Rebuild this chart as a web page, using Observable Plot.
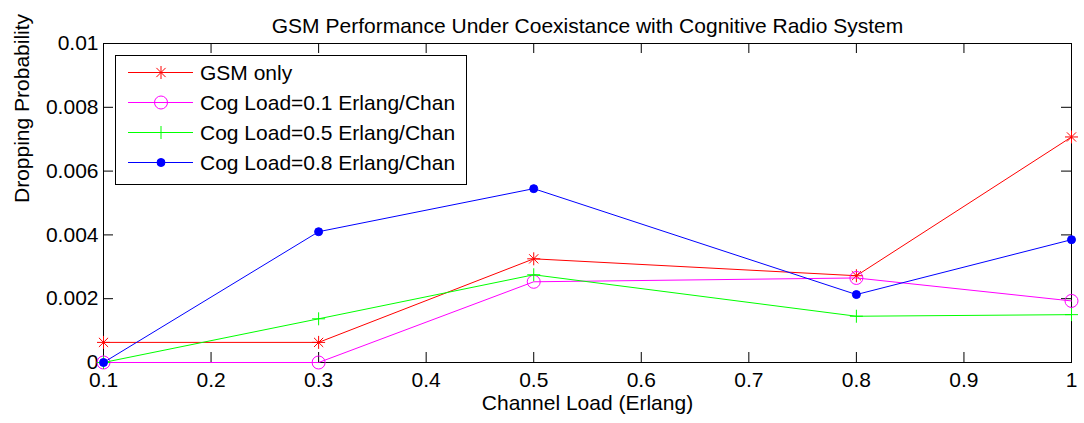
<!DOCTYPE html>
<html><head><meta charset="utf-8">
<script src="https://cdn.jsdelivr.net/npm/d3@7"></script>
<script src="https://cdn.jsdelivr.net/npm/@observablehq/plot@0.6"></script>
<style>
body{margin:0;background:#fff;}
#wrap{position:relative;width:1084px;height:423px;font-family:"Liberation Sans",Arial,sans-serif;}
#legend{position:absolute;left:115px;top:55px;}
</style></head><body>
<div id="wrap"><div id="chart"></div><div id="legend"></div></div>
<script>
const channelLoad = [0.1, 0.3, 0.5, 0.8, 1.0];
const gsmOnly = [0.00063, 0.00063, 0.00325, 0.00272, 0.00707];
const cog01 = [0, 0, 0.00253, 0.00265, 0.00193];
const cog05 = [0, 0.00137, 0.00275, 0.00145, 0.0015];
const cog08 = [0, 0.0041, 0.00545, 0.00213, 0.00385];
const seriesNames = ["GSM only", "Cog Load=0.1 Erlang/Chan", "Cog Load=0.5 Erlang/Chan", "Cog Load=0.8 Erlang/Chan"];
const seriesValues = [gsmOnly, cog01, cog05, cog08];
const seriesColors = ["#ff0000", "#ff00ff", "#00ff00", "#0000ff"];
const xTicks = [0.1, 0.2, 0.3, 0.4, 0.5, 0.6, 0.7, 0.8, 0.9, 1];
const yTicks = [0, 0.002, 0.004, 0.006, 0.008, 0.01];
const titleText = "GSM Performance Under Coexistance with Cognitive Radio System";
const xLabel = "Channel Load (Erlang)";
const yLabel = "Dropping Probability";

const W = 1084, H = 423, mL = 103, mR = 13, mT = 43, mB = 61;
const fw = W - mL - mR, fh = H - mT - mB, tick = 10;
const FONT = 21;

const asterisk = {draw(ctx, size) {const r = Math.sqrt(size / Math.PI), d = r * Math.SQRT1_2;
  ctx.moveTo(-r, 0); ctx.lineTo(r, 0); ctx.moveTo(0, -r); ctx.lineTo(0, r);
  ctx.moveTo(-d, -d); ctx.lineTo(d, d); ctx.moveTo(-d, d); ctx.lineTo(d, -d);}};
const plusSym = {draw(ctx, size) {const r = Math.sqrt(size / Math.PI);
  ctx.moveTo(-r, 0); ctx.lineTo(r, 0); ctx.moveTo(0, -r); ctx.lineTo(0, r);}};
const circleSym = {draw(ctx, size) {const r = Math.sqrt(size / Math.PI); ctx.moveTo(r, 0); ctx.arc(0, 0, r, 0, 2 * Math.PI);}};
const markers = [
  {symbol: asterisk, r: 6.5, fill: "none"},
  {symbol: circleSym, r: 6.5, fill: "none"},
  {symbol: plusSym, r: 6.5, fill: "none"},
  {symbol: circleSym, r: 4, fill: "#0000ff"}
];

const rows = seriesNames.flatMap((s, k) => channelLoad.map((x, i) => ({series: s, k, x, y: seriesValues[k][i]})));

const marks = [
  Plot.ruleX(xTicks, {x: d => d, insetTop: fh - tick, stroke: "#000", strokeWidth: 1}),
  Plot.ruleX(xTicks, {x: d => d, insetBottom: fh - tick, stroke: "#000", strokeWidth: 1}),
  Plot.ruleY(yTicks, {y: d => d, insetRight: fw - tick, stroke: "#000", strokeWidth: 1}),
  Plot.ruleY(yTicks, {y: d => d, insetLeft: fw - tick, stroke: "#000", strokeWidth: 1}),
  Plot.frame({stroke: "#000", strokeWidth: 1}),
  Plot.axisX(xTicks, {anchor: "bottom", tickSize: 0, tickPadding: 10, tickFormat: d3.format("~g"), fontSize: FONT, label: null}),
  Plot.axisY(yTicks, {anchor: "left", tickSize: 0, tickPadding: 5, tickFormat: d3.format("~g"), fontSize: FONT, label: null}),
];
seriesNames.forEach((s, k) => {
  const data = rows.filter(d => d.k === k);
  marks.push(Plot.line(data, {x: "x", y: "y", stroke: seriesColors[k], strokeWidth: 1}));
  marks.push(Plot.dot(data, {x: "x", y: "y", stroke: seriesColors[k], fill: markers[k].fill, r: markers[k].r, symbol: markers[k].symbol, strokeWidth: 1}));
});
marks.push(Plot.text([titleText], {text: d => d, frameAnchor: "top", dy: -25, fontSize: FONT, fill: "#000"}));
marks.push(Plot.text([xLabel], {text: d => d, frameAnchor: "bottom", dy: 47, fontSize: FONT, fill: "#000"}));
marks.push(Plot.text([yLabel], {text: d => d, frameAnchor: "left", dx: -81, rotate: -90, fontSize: FONT, fill: "#000"}));

const chart = Plot.plot({
  width: W, height: H, marginLeft: mL, marginRight: mR, marginTop: mT, marginBottom: mB,
  style: {fontFamily: '"Liberation Sans", Arial, sans-serif', fontSize: FONT + "px", background: "#fff", color: "#000", overflow: "visible"},
  x: {domain: [0.1, 1]},
  y: {domain: [0, 0.01]},
  marks
});
document.getElementById("chart").appendChild(chart);

// legend
const lw = 351, lh = 129;
const lg = d3.select("#legend").append("svg").attr("width", lw + 2).attr("height", lh + 2)
  .style("font-family", '"Liberation Sans", Arial, sans-serif');
lg.append("rect").attr("x", 0.5).attr("y", 0.5).attr("width", lw).attr("height", lh).attr("fill", "#fff").attr("stroke", "#000").attr("stroke-width", 1);
seriesNames.forEach((s, k) => {
  const cy = 17.5 + 30 * k;
  lg.append("line").attr("x1", 13).attr("x2", 78).attr("y1", cy).attr("y2", cy).attr("stroke", seriesColors[k]).attr("stroke-width", 1);
  const m = markers[k];
  const p = d3.path();
  m.symbol.draw(p, Math.PI * m.r * m.r);
  lg.append("path").attr("d", p.toString()).attr("transform", `translate(46,${cy})`)
    .attr("stroke", seriesColors[k]).attr("fill", m.fill).attr("stroke-width", 1);
  lg.append("text").attr("x", 85).attr("y", cy).attr("dominant-baseline", "central").attr("font-size", FONT).text(s);
});
</script>
</body></html>
